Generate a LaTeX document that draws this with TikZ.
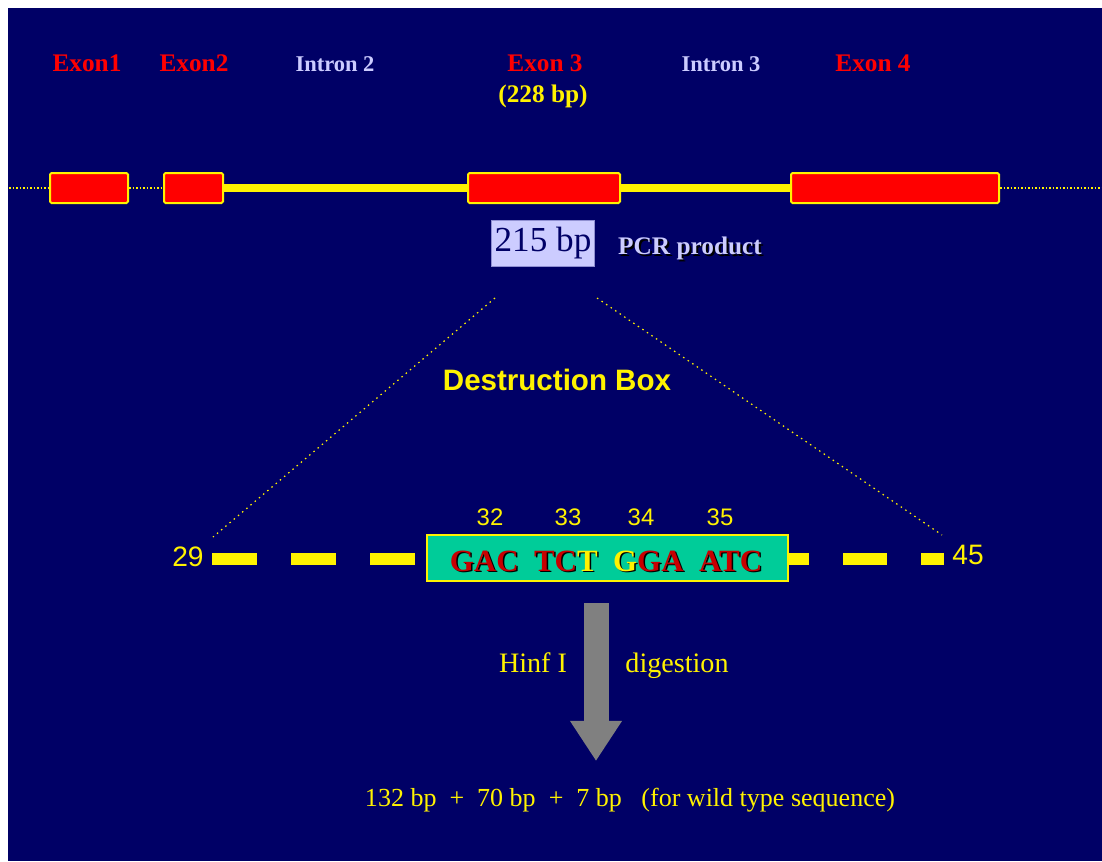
\documentclass[tikz,border=0pt]{standalone}
\usepackage{fontspec}
\setmainfont{Liberation Serif}
\newfontfamily\arialfont{Liberation Sans}
\usetikzlibrary{arrows.meta, positioning}
\definecolor{navy}{RGB}{0,0,102}
\definecolor{exonred}{RGB}{255,0,0}
\definecolor{seqred}{RGB}{200,0,0}
\definecolor{lavender}{RGB}{204,204,255}
\definecolor{boxgreen}{RGB}{0,204,153}
\definecolor{arrowgray}{RGB}{128,128,128}
\newlength{\px}\setlength{\px}{0.025cm}

\begin{document}
\begin{tikzpicture}[x=0.025cm, y=-0.025cm,
    exon/.style={draw=yellow, fill=exonred, line width=2\px, rounded corners=1.5\px,
        minimum height=30\px, inner sep=0pt},
    exonlbl/.style={text=exonred, font=\fontsize{18}{20}\selectfont\bfseries},
    intronlbl/.style={text=lavender, font=\fontsize{16}{18}\selectfont\bfseries},
    intronline/.style={yellow, line width=8\px},
    flank/.style={yellow, line width=1.5\px, dash pattern=on 1.5\px off 2\px},
    zoomline/.style={yellow, line width=1.2\px, dash pattern=on 1.5\px off 4\px},
    codonnum/.style={text=yellow, font=\arialfont\fontsize{17}{19}\selectfont},
    endnum/.style={text=yellow, font=\arialfont\fontsize{20}{22}\selectfont},
    dashseg/.style={yellow, line width=12\px},
    yeltext/.style={text=yellow, font=\fontsize{20}{22}\selectfont}]
    % frame
    \useasboundingbox (0,0) rectangle (1102,861);
    \fill[navy] (8,8) rectangle (1102,861);

    % gene labels
    \node[exonlbl] (lexon1) at (87,63) {Exon1};
    \node[exonlbl] (lexon2) at (194,63) {Exon2};
    \node[intronlbl] (lintron2) at (335,64) {Intron 2};
    \node[exonlbl] (lexon3) at (545,63) {Exon 3};
    \node[exonlbl, text=yellow] (lsize) at (543,96) {(228 bp)};
    \node[intronlbl] (lintron3) at (721,64) {Intron 3};
    \node[exonlbl] (lexon4) at (873,63) {Exon 4};

    % gene structure
    \node[exon, minimum width=78\px] (exon1) at (89,188) {};
    \node[exon, minimum width=59\px] (exon2) at (193.5,188) {};
    \node[exon, minimum width=152\px] (exon3) at (544,188) {};
    \node[exon, minimum width=208\px] (exon4) at (895,188) {};
    \coordinate (gstart) at (9,188);
    \coordinate (gend) at (1102,188);
    \draw[flank] (gstart) -- (exon1.west);
    \draw[flank] (exon1.east) -- (exon2.west);
    \draw[intronline] (exon2.east) -- (exon3.west);
    \draw[intronline] (exon3.east) -- (exon4.west);
    \draw[flank] (exon4.east) -- (gend);

    % PCR product
    \node[fill=lavender, draw=lavender!70!navy, line width=1\px, minimum width=103\px,
        minimum height=46\px, inner sep=0pt, text=navy,
        font=\fontsize{25}{27}\selectfont] (pcr) at (543,243) {215 bp};
    \node[text=black, font=\fontsize{18}{20}\selectfont\bfseries] at (692,250) {PCR product};
    \node[text=lavender, font=\fontsize{18}{20}\selectfont\bfseries] (pcrlbl) at (690,248) {PCR product};

    \node[text=yellow, font=\arialfont\fontsize{21}{23}\selectfont\bfseries] (dbox) at (557,380) {Destruction Box};

    % zoom lines
    \coordinate (zl) at (495,298);
    \coordinate (zr) at (597,298);
    \coordinate (c29) at (213,537);
    \coordinate (c45) at (942,535);
    \draw[zoomline] (zl) -- (c29);
    \draw[zoomline] (zr) -- (c45);

    % destruction box sequence
    \node[endnum] (n29) at (188,557) {29};
    \node[endnum] (n45) at (968,555) {45};
    \foreach \a/\b in {212/257, 291/336, 370/415, 788/809, 843/887, 921/944}
        \draw[dashseg] (\a,559) -- (\b,559);
    \node[fill=boxgreen, draw=yellow, line width=2\px, minimum width=361\px,
        minimum height=46\px, inner sep=0pt] (seq) at (607.5,558) {};
    \node[text=black, font=\fontsize{22}{24}\selectfont\bfseries] at (607.5,562.5)
        {GAC\hspace{0.5em}TCT\hspace{0.5em}GGA\hspace{0.5em}ATC};
    \node[font=\fontsize{22}{24}\selectfont\bfseries] (seqtxt) at (606,561)
        {\textcolor{seqred}{GAC}\hspace{0.5em}\textcolor{seqred}{TC}\textcolor{yellow}{T}\hspace{0.5em}\textcolor{yellow}{G}\textcolor{seqred}{GA}\hspace{0.5em}\textcolor{seqred}{ATC}};
    \foreach \x/\n in {490/32, 568/33, 641/34, 720/35}
        \node[codonnum] (c\n) at (\x,517) {\n};

    % digestion
    \coordinate (cut) at (596,603);
    \coordinate (cutend) at (596,761);
    \draw[arrowgray, line width=25\px, -{Triangle[length=28.5pt, width=34.9pt]}] (cut) -- (cutend);
    \node[yeltext, anchor=base] (hinf) at (533,672) {Hinf I};
    \node[yeltext, anchor=base] (digest) at (677,672) {digestion};
    \node[yeltext, font=\fontsize{18.5}{21}\selectfont] (result) at (630,800)
        {132 bp \ + \ 70 bp \ + \ 7 bp \ \ (for wild type sequence)};
\end{tikzpicture}
\end{document}
